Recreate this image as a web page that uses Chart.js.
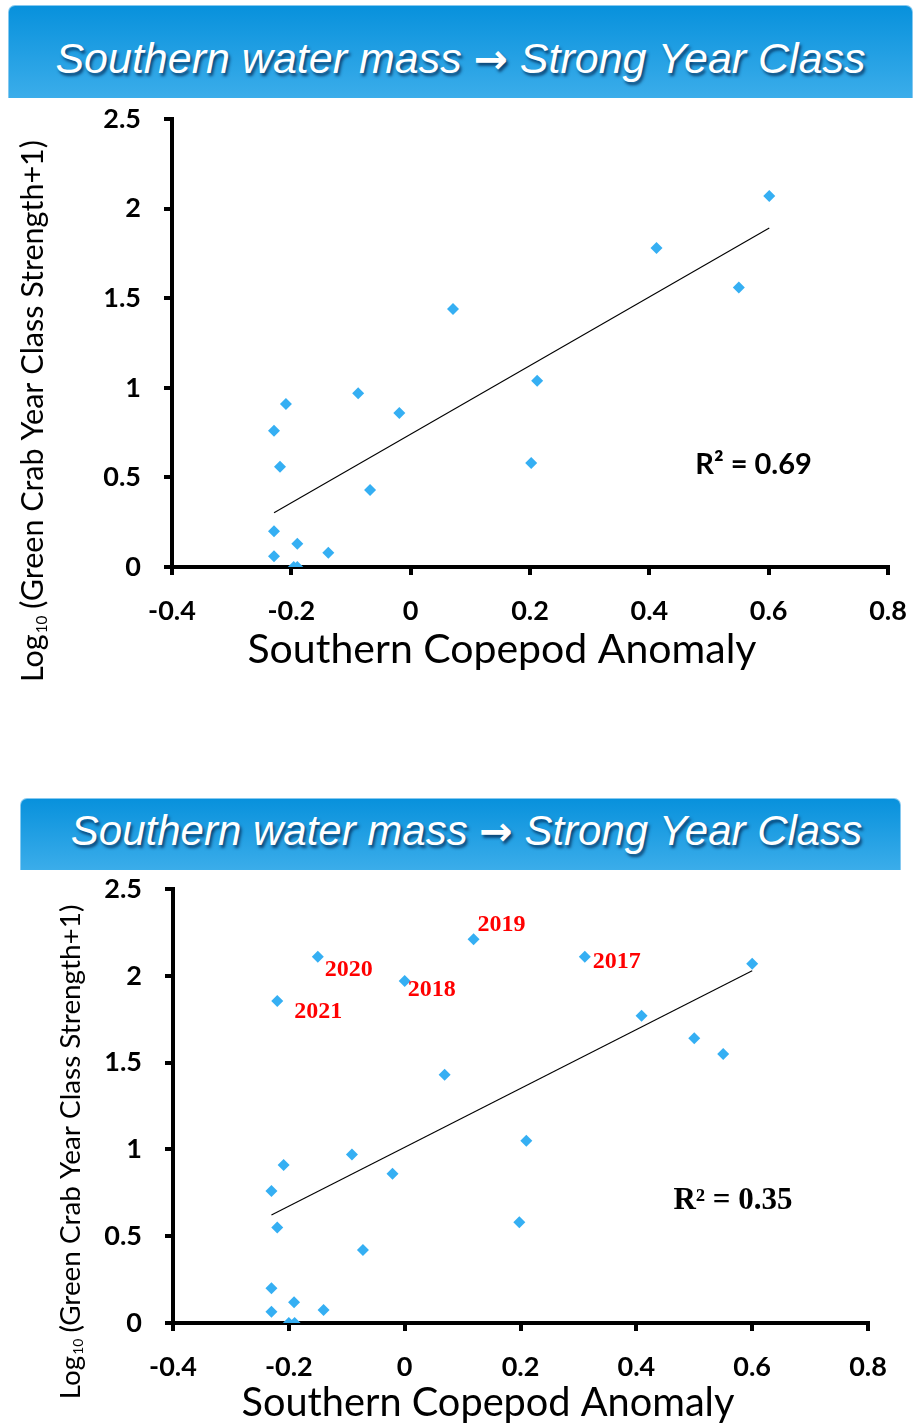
<!DOCTYPE html>
<html><head><meta charset="utf-8">
<script src="https://cdn.jsdelivr.net/npm/chart.js@4.4.1/dist/chart.umd.min.js"></script>
<style>
html,body{margin:0;padding:0;background:#fff;}
#page{position:relative;width:915px;height:1424px;overflow:hidden;background:#fff;}
.banner{position:absolute;box-sizing:border-box;background:linear-gradient(#0891dc,#3badea);border-radius:7px 7px 0 0;border:1px solid #86c9f0;border-bottom:none;color:#fff;font-family:'Liberation Sans',Arial,sans-serif;font-style:italic;text-align:center;text-shadow:2px 3px 3px rgba(0,30,70,0.7);white-space:nowrap;}
.arr{font-family:'DejaVu Sans',sans-serif;font-weight:bold;font-style:normal;font-size:0.95em;}
#b1{left:8px;top:5px;width:905px;height:93px;font-size:43px;line-height:93px;padding-top:6px;}
#b2{left:20px;top:798px;width:881px;height:72px;font-size:42px;line-height:56px;padding-top:4px;padding-left:12px;}
#c1{position:absolute;left:0;top:100px;}
#c2{position:absolute;left:0;top:870px;}
</style></head>
<body><div id="page">
<div class="banner" id="b1">Southern water mass <span class="arr">→</span> Strong Year Class</div>
<canvas id="c1" width="915" height="600"></canvas>
<div class="banner" id="b2">Southern water mass <span class="arr">→</span> Strong Year Class</div>
<canvas id="c2" width="915" height="554"></canvas>
</div>
<script>
// ---- data ----
const xTickLabels = ['-0.4','-0.2','0','0.2','0.4','0.6','0.8'];
const yTickLabels = ['0','0.5','1','1.5','2','2.5'];
const xTitle = 'Southern Copepod Anomaly';
const yTitleMain = 'Log';
const yTitleSub = '10';
const yTitleRest = ' (Green Crab Year Class Strength+1)';

// top chart
const x1 = [0.071, 0.212, 0.202, -0.088, -0.019, -0.068, -0.209, -0.229, -0.219, -0.229, -0.190, -0.229, -0.138, -0.196, -0.190, 0.601, 0.412, 0.550];
const y1 = [1.44, 1.04, 0.58, 0.97, 0.86, 0.43, 0.91, 0.76, 0.56, 0.20, 0.13, 0.06, 0.08, 0.00, 0.00, 2.07, 1.78, 1.56];
const trend1X = [-0.229, 0.601];
const trend1Y = [0.303, 1.892];
const r2Text1 = 'R² = 0.69';
const r2Pos1 = [0.477, 0.569];

// bottom chart
const yearText = ['2020', '2021', '2018', '2019', '2017'];
const yearX = [-0.150, -0.220, 0.000, 0.119, 0.311];
const yearY = [2.11, 1.855, 1.97, 2.21, 2.11];
const x2 = [0.069, 0.210, 0.198, -0.091, -0.021, -0.072, -0.209, -0.230, -0.220, -0.230, -0.191, -0.230, -0.140, -0.200, -0.190, 0.600, 0.409, 0.500, 0.550];
const y2 = [1.43, 1.05, 0.58, 0.97, 0.86, 0.42, 0.91, 0.76, 0.55, 0.20, 0.12, 0.065, 0.075, 0.00, 0.00, 2.07, 1.77, 1.64, 1.55];
const trend2X = [-0.230, 0.600];
const trend2Y = [0.622, 2.029];
const r2Text2 = 'R² = 0.35';
const r2Pos2 = [0.464, 0.703];

// ---- styling ----
const BLUE = '#35aff3';
const toPts = (xs, ys) => xs.map((x, i) => ({x: x, y: ys[i]}));

const overlay = {
  id: 'overlay',
  afterDraw(chart, args, o) {
    const ctx = chart.ctx;
    const sx = chart.scales.x, sy = chart.scales.y;
    ctx.save();
    ctx.fillStyle = '#000';
    ctx.textBaseline = 'middle';
    ctx.textAlign = 'center';
    let fs = 40;
    ctx.font = fs + 'px Lato';
    fs = fs * o.xTitleW / ctx.measureText(xTitle).width;
    ctx.font = fs + 'px Lato';
    ctx.fillText(xTitle, o.xTitleC[0], o.xTitleC[1]);
    let ys = 30;
    const measure = (s) => {
      ctx.font = s + 'px Lato';
      const a = ctx.measureText(yTitleMain).width;
      const c = ctx.measureText(yTitleRest).width;
      ctx.font = (s * 0.5) + 'px Lato';
      const b = ctx.measureText(yTitleSub).width;
      return [a, b, c];
    };
    let m = measure(ys);
    ys = ys * o.yTitleW / (m[0] + m[1] + m[2]);
    m = measure(ys);
    ctx.translate(o.yTitleC[0], o.yTitleC[1]);
    ctx.rotate(-Math.PI / 2);
    ctx.textAlign = 'left';
    ctx.textBaseline = 'alphabetic';
    let px = -(m[0] + m[1] + m[2]) / 2;
    const base = ys * 0.36;
    ctx.font = ys + 'px Lato';
    ctx.fillText(yTitleMain, px, base);
    px += m[0];
    ctx.font = (ys * 0.5) + 'px Lato';
    ctx.fillText(yTitleSub, px + 1, base + ys * 0.12);
    px += m[1];
    ctx.font = ys + 'px Lato';
    ctx.fillText(yTitleRest, px, base);
    ctx.setTransform(1, 0, 0, 1, 0, 0);
    ctx.font = o.r2Font;
    ctx.textAlign = 'left';
    ctx.textBaseline = 'middle';
    ctx.fillStyle = '#000';
    ctx.fillText(o.r2Text, sx.getPixelForValue(o.r2Pos[0]), sy.getPixelForValue(o.r2Pos[1]));
    if (o.years) {
      ctx.font = 'bold 24px "Liberation Serif"';
      ctx.fillStyle = '#ff0000';
      o.years.forEach((t, i) => {
        const d = o.yearOffsets[i];
        ctx.fillText(t, sx.getPixelForValue(o.yearX[i]) + d[0], sy.getPixelForValue(o.yearY[i]) + d[1]);
      });
    }
    ctx.restore();
  }
};

function zeroPad(s) { s.paddingTop = 0; s.paddingBottom = 0; s.paddingLeft = 0; s.paddingRight = 0; }

function makeChart(id, pts, trend, pad, yW, xH, ov) {
  return new Chart(document.getElementById(id), {
    type: 'scatter',
    data: {
      datasets: [
        {data: pts, pointStyle: 'rectRot', pointRadius: 6, pointBackgroundColor: BLUE, pointBorderWidth: 0, showLine: false},
        {data: trend, showLine: true, borderColor: '#000', borderWidth: 1.1, pointRadius: 0, fill: false}
      ]
    },
    options: {
      responsive: false, animation: false, devicePixelRatio: 1,
      layout: {autoPadding: false, padding: pad},
      plugins: {legend: {display: false}, tooltip: {enabled: false}, overlay: ov},
      scales: {
        x: {
          type: 'linear', min: -0.4, max: 0.8,
          ticks: {stepSize: 0.2, padding: 20, color: '#000', font: {family: 'Lato', weight: 'bold', size: 27},
                  callback: (v, i) => xTickLabels[i]},
          grid: {drawOnChartArea: false, drawTicks: true, tickLength: 8, lineWidth: 4, color: '#000'},
          border: {display: true, width: 4, color: '#000'},
          afterFit: s => { s.height = xH; zeroPad(s); }
        },
        y: {
          type: 'linear', min: 0, max: 2.5,
          ticks: {stepSize: 0.5, padding: 23, color: '#000', font: {family: 'Lato', weight: 'bold', size: 27},
                  callback: (v, i) => yTickLabels[i]},
          grid: {drawOnChartArea: false, drawTicks: true, tickLength: 8, lineWidth: 4, color: '#000'},
          border: {display: true, width: 4, color: '#000'},
          afterFit: s => { s.width = yW; zeroPad(s); }
        }
      }
    },
    plugins: [overlay]
  });
}

makeChart('c1', toPts(x1, y1), toPts(trend1X, trend1Y),
  {top: 19, right: 27, bottom: 0, left: 0}, 172, 133,
  {xTitleW: 509, xTitleC: [502, 550], yTitleW: 542, yTitleC: [32, 311],
   r2Text: r2Text1, r2Pos: r2Pos1, r2Font: 'bold 29px Lato'});

makeChart('c2', toPts(yearX, yearY).concat(toPts(x2, y2)), toPts(trend2X, trend2Y),
  {top: 19, right: 47, bottom: 0, left: 0}, 173, 101,
  {xTitleW: 493, xTitleC: [488, 533], yTitleW: 495, yTitleC: [70, 282],
   r2Text: r2Text2, r2Pos: r2Pos2, r2Font: 'bold 31px "Liberation Serif"',
   years: yearText, yearX: yearX, yearY: yearY,
   yearOffsets: [[7, 13], [17, 11], [3, 9], [4, -15], [8, 5]]});
</script>
</body></html>
